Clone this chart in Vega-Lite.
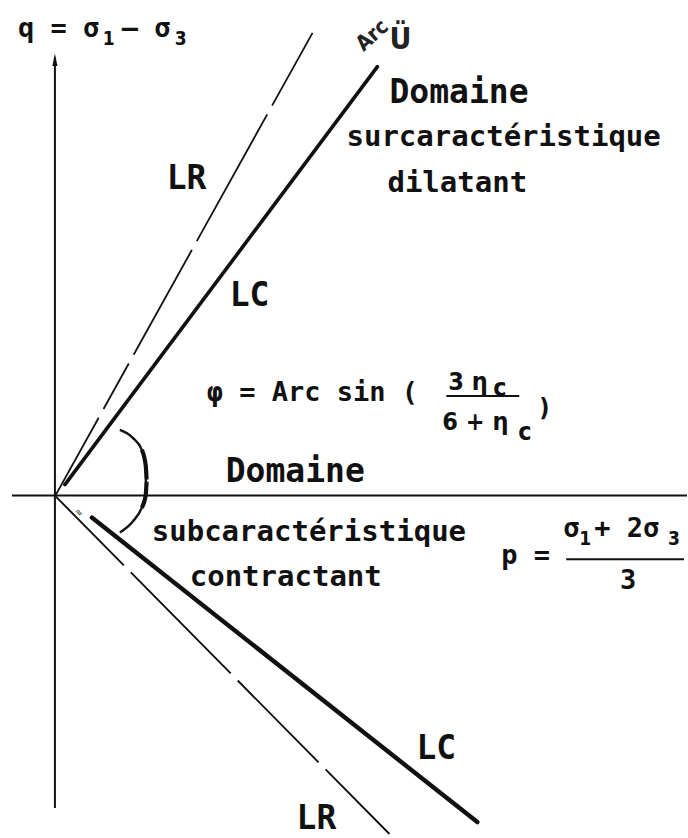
{
  "$schema": "https://vega.github.io/schema/vega-lite/v6.json",
  "width": 688,
  "height": 838,
  "autosize": {"type": "fit", "contains": "padding"},
  "padding": 0,
  "background": "white",
  "config": {"view": {"stroke": null}},
  "encoding": {
    "x": {"field": "x", "type": "quantitative", "scale": {"domain": [-55, 633], "nice": false, "zero": false}, "axis": null},
    "y": {"field": "y", "type": "quantitative", "scale": {"domain": [-340, 498], "nice": false, "zero": false}, "axis": null}
  },
  "layer": [
    {
      "data": {"values": [
        {"axis": "q", "x": 0, "y": -314, "x2": 0, "y2": 440},
        {"axis": "p", "x": -43, "y": 0, "x2": 633, "y2": 0}
      ]},
      "mark": {"type": "rule", "strokeWidth": 2, "color": "#111"},
      "encoding": {"x2": {"field": "x2"}, "y2": {"field": "y2"}}
    },
    {
      "data": {"values": [{"x": 0, "y": 438}]},
      "mark": {"type": "point", "shape": "M0,-1L0.4,1L-0.4,1Z", "size": 160, "filled": true, "color": "#111", "opacity": 1}
    },
    {
      "data": {"values": [
        {"ray": "LR haut", "x": 1, "y": 1},
        {"ray": "LR haut", "x": 258, "y": 465}
      ]},
      "mark": {"type": "line", "strokeWidth": 1.8, "color": "#111", "strokeDash": [88, 10, 52, 10, 120, 10, 145, 10, 300]}
    },
    {
      "data": {"values": [
        {"ray": "LR bas", "x": 0, "y": 0},
        {"ray": "LR bas", "x": 335, "y": -340}
      ]},
      "mark": {"type": "line", "strokeWidth": 1.9, "color": "#111", "strokeDash": [98, 10, 142, 10, 115, 10, 300]}
    },
    {
      "data": {"values": [
        {"ray": "LC haut", "x": 10, "y": 11},
        {"ray": "LC haut", "x": 323, "y": 431}
      ]},
      "mark": {"type": "line", "strokeWidth": 3.6, "color": "#111", "strokeCap": "round"}
    },
    {
      "data": {"values": [
        {"ray": "LC bas", "x": 37, "y": -22},
        {"ray": "LC bas", "x": 423, "y": -328}
      ]},
      "mark": {"type": "line", "strokeWidth": 4.4, "color": "#111", "strokeCap": "round"}
    },
    {
      "data": {"values": [
        {"k": 0, "x": 65, "y": 66},
        {"k": 1, "x": 78, "y": 58},
        {"k": 2, "x": 87, "y": 46},
        {"k": 3, "x": 91, "y": 30},
        {"k": 4, "x": 92, "y": 15},
        {"k": 5, "x": 91, "y": 1},
        {"k": 6, "x": 87, "y": -12},
        {"k": 7, "x": 78, "y": -26},
        {"k": 8, "x": 65, "y": -37}
      ]},
      "layer": [
        {
          "mark": {"type": "line", "strokeWidth": 2.4, "color": "#111", "interpolate": "monotone"},
          "encoding": {"order": {"field": "k", "type": "quantitative"}}
        },
        {
          "transform": [{"filter": "datum.k >= 2 && datum.k <= 6"}],
          "mark": {"type": "line", "strokeWidth": 4.2, "color": "#111", "interpolate": "monotone"},
          "encoding": {"order": {"field": "k", "type": "quantitative"}}
        }
      ]
    },
    {
      "data": {"values": [
        {"t": "surcaractéristique", "x": 292, "y": 351},
        {"t": "dilatant", "x": 333, "y": 305},
        {"t": "subcaractéristique", "x": 97, "y": -46},
        {"t": "contractant", "x": 135, "y": -91}
      ]},
      "mark": {"type": "text", "font": "DejaVu Sans Mono", "fontWeight": "bold", "fontSize": 29, "align": "left", "baseline": "alphabetic", "color": "#111"},
      "encoding": {"text": {"field": "t"}}
    },
    {
      "data": {"values": [
        {"t": "Domaine", "x": 335, "y": 395},
        {"t": "Domaine", "x": 171, "y": 14}
      ]},
      "mark": {"type": "text", "font": "DejaVu Sans Mono", "fontWeight": "bold", "fontSize": 33, "align": "left", "baseline": "alphabetic", "color": "#111"},
      "encoding": {"text": {"field": "t"}}
    },
    {
      "data": {"values": [
        {"t": "LR", "x": 112, "y": 308},
        {"t": "LC", "x": 175, "y": 191},
        {"t": "LC", "x": 362, "y": -265},
        {"t": "LR", "x": 242, "y": -335}
      ]},
      "mark": {"type": "text", "font": "DejaVu Sans Mono", "fontWeight": "bold", "fontSize": 33, "align": "left", "baseline": "alphabetic", "color": "#111"},
      "encoding": {"text": {"field": "t"}}
    },
    {
      "data": {"values": [
        {"t": "q = σ", "x": -37, "y": 461},
        {"t": "– σ", "x": 67, "y": 461},
        {"t": "φ = Arc sin (", "x": 152, "y": 95},
        {"t": "p =", "x": 447, "y": -69},
        {"t": "σ", "x": 509, "y": -42},
        {"t": "+ 2σ", "x": 540, "y": -42},
        {"t": "3", "x": 566, "y": -94}
      ]},
      "mark": {"type": "text", "font": "DejaVu Sans Mono", "fontWeight": "bold", "fontSize": 27, "align": "left", "baseline": "alphabetic", "color": "#111"},
      "encoding": {"text": {"field": "t"}}
    },
    {
      "data": {"values": [
        {"t": "1", "x": 48, "y": 453},
        {"t": "3", "x": 120, "y": 453},
        {"t": "1", "x": 525, "y": -50},
        {"t": "3", "x": 614, "y": -50}
      ]},
      "mark": {"type": "text", "font": "DejaVu Sans Condensed", "fontWeight": "bold", "fontSize": 19, "align": "left", "baseline": "alphabetic", "color": "#111"},
      "encoding": {"text": {"field": "t"}}
    },
    {
      "data": {"values": [
        {"t": "3 η", "x": 394, "y": 106},
        {"t": "c", "x": 439, "y": 100},
        {"t": "6 + η", "x": 388, "y": 66},
        {"t": "c", "x": 464, "y": 56},
        {"t": ")", "x": 485, "y": 80}
      ]},
      "mark": {"type": "text", "font": "DejaVu Sans Condensed", "fontWeight": "bold", "fontSize": 25, "align": "left", "baseline": "alphabetic", "color": "#111"},
      "encoding": {"text": {"field": "t"}}
    },
    {
      "data": {"values": [
        {"frac": "φ", "x": 392, "y": 100, "x2": 465, "y2": 100},
        {"frac": "p", "x": 512, "y": -64, "x2": 630, "y2": -64}
      ]},
      "mark": {"type": "rule", "strokeWidth": 2, "color": "#111"},
      "encoding": {"x2": {"field": "x2"}, "y2": {"field": "y2"}}
    },
    {
      "data": {"values": [
        {"t": "Arc", "x": 318, "y": 462}
      ]},
      "mark": {"type": "text", "font": "DejaVu Sans Condensed", "fontWeight": "bold", "fontSize": 21, "angle": -42, "align": "center", "baseline": "middle", "color": "#222"},
      "encoding": {"text": {"field": "t"}}
    },
    {
      "data": {"values": [
        {"t": "Ü", "x": 346, "y": 458}
      ]},
      "mark": {"type": "text", "font": "DejaVu Sans Condensed", "fontWeight": "bold", "fontSize": 30, "align": "center", "baseline": "middle", "color": "#222"},
      "encoding": {"text": {"field": "t"}}
    },
    {
      "data": {"values": [
        {"t": "≈", "x": 24, "y": -17}
      ]},
      "mark": {"type": "text", "font": "DejaVu Sans", "fontSize": 10, "angle": 40, "align": "center", "baseline": "middle", "color": "#333"},
      "encoding": {"text": {"field": "t"}}
    }
  ]
}
